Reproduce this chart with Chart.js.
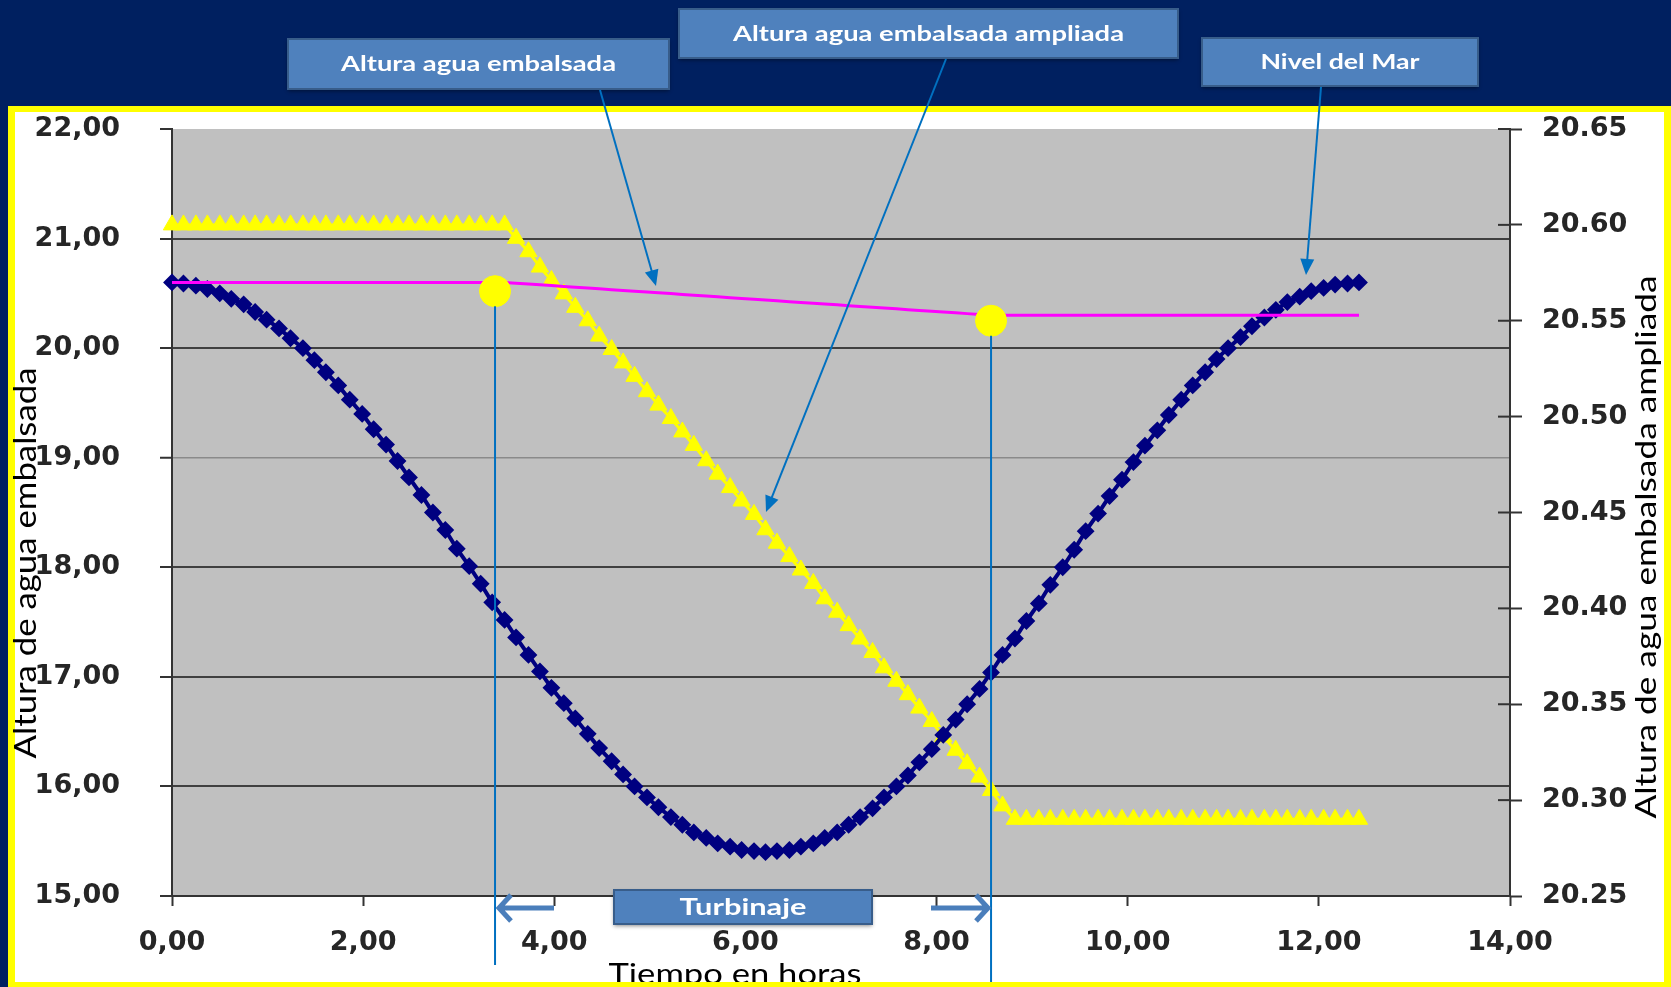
<!DOCTYPE html>
<html>
<head>
<meta charset="utf-8">
<title>Altura agua embalsada</title>
<script src="https://cdn.jsdelivr.net/npm/chart.js@4.4.1/dist/chart.umd.min.js"></script>
<style>
    html, body { margin: 0; padding: 0; background: #002060; }
    canvas { display: block; }
</style>
</head>
<body>
<canvas id="embalseChart" width="1671" height="987"></canvas>
<script>
// Tiempo en horas (una muestra cada ~7,5 min)
const horas = [
    0.00, 0.12, 0.25, 0.37, 0.50, 0.62, 0.75, 0.87, 0.99, 1.12,
    1.24, 1.37, 1.49, 1.61, 1.74, 1.86, 1.99, 2.11, 2.24, 2.36,
    2.48, 2.61, 2.73, 2.86, 2.98, 3.11, 3.23, 3.35, 3.48, 3.60,
    3.73, 3.85, 3.97, 4.10, 4.22, 4.35, 4.47, 4.60, 4.72, 4.84,
    4.97, 5.09, 5.22, 5.34, 5.46, 5.59, 5.71, 5.84, 5.96, 6.09,
    6.21, 6.33, 6.46, 6.58, 6.71, 6.83, 6.96, 7.08, 7.20, 7.33,
    7.45, 7.58, 7.70, 7.82, 7.95, 8.07, 8.20, 8.32, 8.45, 8.57,
    8.69, 8.82, 8.94, 9.07, 9.19, 9.32, 9.44, 9.56, 9.69, 9.81,
    9.94, 10.06, 10.18, 10.31, 10.43, 10.56, 10.68, 10.81, 10.93, 11.05,
    11.18, 11.30, 11.43, 11.55, 11.67, 11.80, 11.92, 12.05, 12.17, 12.30,
    12.42
];

// Nivel del Mar (eje izquierdo)
const nivelMar = [
    20.60, 20.59, 20.57, 20.54, 20.50, 20.45, 20.40, 20.33, 20.26, 20.18,
    20.09, 20.00, 19.89, 19.78, 19.66, 19.53, 19.40, 19.26, 19.12, 18.97,
    18.82, 18.66, 18.50, 18.34, 18.17, 18.01, 17.85, 17.68, 17.52, 17.36,
    17.20, 17.05, 16.90, 16.76, 16.62, 16.48, 16.35, 16.23, 16.11, 16.00,
    15.90, 15.81, 15.72, 15.65, 15.58, 15.53, 15.48, 15.45, 15.42, 15.41,
    15.40, 15.41, 15.42, 15.45, 15.48, 15.53, 15.58, 15.65, 15.72, 15.80,
    15.90, 16.00, 16.10, 16.22, 16.34, 16.47, 16.61, 16.75, 16.89, 17.04,
    17.20, 17.35, 17.51, 17.67, 17.84, 18.00, 18.16, 18.33, 18.49, 18.65,
    18.80, 18.96, 19.11, 19.25, 19.39, 19.53, 19.66, 19.78, 19.90, 20.00,
    20.10, 20.20, 20.28, 20.35, 20.42, 20.47, 20.52, 20.55, 20.58, 20.59,
    20.60
];

// Altura agua embalsada (eje izquierdo)
const embalsada = [
    20.600, 20.600, 20.600, 20.600, 20.600, 20.600, 20.600, 20.600, 20.600, 20.600,
    20.600, 20.600, 20.600, 20.600, 20.600, 20.600, 20.600, 20.600, 20.600, 20.600,
    20.600, 20.600, 20.600, 20.600, 20.600, 20.600, 20.600, 20.600, 20.600, 20.593,
    20.585, 20.578, 20.571, 20.563, 20.556, 20.549, 20.541, 20.534, 20.527, 20.520,
    20.512, 20.505, 20.498, 20.490, 20.483, 20.476, 20.468, 20.461, 20.454, 20.446,
    20.439, 20.432, 20.424, 20.417, 20.410, 20.402, 20.395, 20.388, 20.380, 20.373,
    20.366, 20.359, 20.351, 20.344, 20.337, 20.329, 20.322, 20.315, 20.307, 20.300,
    20.300, 20.300, 20.300, 20.300, 20.300, 20.300, 20.300, 20.300, 20.300, 20.300,
    20.300, 20.300, 20.300, 20.300, 20.300, 20.300, 20.300, 20.300, 20.300, 20.300,
    20.300, 20.300, 20.300, 20.300, 20.300, 20.300, 20.300, 20.300, 20.300, 20.300,
    20.300
];

// Altura agua embalsada ampliada (eje derecho)
const ampliada = [
    20.60, 20.60, 20.60, 20.60, 20.60, 20.60, 20.60, 20.60, 20.60, 20.60,
    20.60, 20.60, 20.60, 20.60, 20.60, 20.60, 20.60, 20.60, 20.60, 20.60,
    20.60, 20.60, 20.60, 20.60, 20.60, 20.60, 20.60, 20.60, 20.60, 20.593,
    20.586, 20.578, 20.571, 20.564, 20.557, 20.550, 20.542, 20.535, 20.528, 20.521,
    20.513, 20.506, 20.499, 20.492, 20.485, 20.477, 20.470, 20.463, 20.456, 20.449,
    20.441, 20.434, 20.427, 20.420, 20.413, 20.405, 20.398, 20.391, 20.384, 20.377,
    20.369, 20.362, 20.355, 20.348, 20.341, 20.333, 20.326, 20.319, 20.312, 20.305,
    20.297, 20.290, 20.29, 20.29, 20.29, 20.29, 20.29, 20.29, 20.29, 20.29,
    20.29, 20.29, 20.29, 20.29, 20.29, 20.29, 20.29, 20.29, 20.29, 20.29,
    20.29, 20.29, 20.29, 20.29, 20.29, 20.29, 20.29, 20.29, 20.29, 20.29,
    20.29
];

// Inicio y fin del turbinaje (círculos amarillos)
const marcaHoras = [3.38, 8.57];
const marcaAltura = [20.52, 20.25];

const pares = (ys) => horas.map((h, i) => ({ x: h, y: ys[i] }));
const tickFont = { family: 'DejaVu Sans', size: 27, weight: 'bold' };
const coma = (v) => v.toFixed(2).replace('.', ',');

function stretchText(ctx, text, x, y, font, width, angle, baseline) {
    ctx.save();
    ctx.font = font;
    const w = ctx.measureText(text).width;
    ctx.translate(x, y);
    if (angle) ctx.rotate(angle);
    ctx.scale(width / w, 1);
    ctx.textAlign = 'center';
    ctx.textBaseline = baseline || 'middle';
    ctx.fillText(text, 0, 0);
    ctx.restore();
}

function arrow(ctx, x1, y1, x2, y2, color) {
    const a = Math.atan2(y2 - y1, x2 - x1);
    const head = 16, half = 7;
    ctx.save();
    ctx.strokeStyle = color;
    ctx.fillStyle = color;
    ctx.lineWidth = 2;
    ctx.beginPath();
    ctx.moveTo(x1, y1);
    ctx.lineTo(x2 - Math.cos(a) * head * 0.8, y2 - Math.sin(a) * head * 0.8);
    ctx.stroke();
    ctx.beginPath();
    ctx.moveTo(x2, y2);
    ctx.lineTo(x2 - head * Math.cos(a) + half * Math.sin(a), y2 - head * Math.sin(a) - half * Math.cos(a));
    ctx.lineTo(x2 - head * Math.cos(a) - half * Math.sin(a), y2 - head * Math.sin(a) + half * Math.cos(a));
    ctx.closePath();
    ctx.fill();
    ctx.restore();
}

function box(ctx, x, y, w, h, text, textWidth, fontSize) {
    ctx.save();
    ctx.shadowColor = 'rgba(0,0,0,0.45)';
    ctx.shadowBlur = 4;
    ctx.shadowOffsetY = 2;
    ctx.fillStyle = '#4F81BD';
    ctx.fillRect(x, y, w, h);
    ctx.restore();
    ctx.save();
    ctx.strokeStyle = '#385D8A';
    ctx.lineWidth = 2;
    ctx.strokeRect(x, y, w, h);
    ctx.fillStyle = '#ffffff';
    stretchText(ctx, text, x + w / 2, y + h / 2 + 1, 'bold ' + fontSize + 'px Lato', textWidth);
    ctx.restore();
}

// Fondo: banda azul, marco amarillo, área gris
const fondo = {
    id: 'fondo',
    beforeDraw(chart) {
        const { ctx, chartArea: a } = chart;
        ctx.save();
        ctx.fillStyle = '#002060';
        ctx.fillRect(0, 0, chart.width, chart.height);
        ctx.fillStyle = '#FFFF00';
        ctx.fillRect(8, 106, chart.width - 8, chart.height - 106);
        ctx.fillStyle = '#ffffff';
        ctx.fillRect(15, 112, chart.width - 22, chart.height - 117);
        ctx.fillStyle = '#C0C0C0';
        ctx.fillRect(a.left, a.top, a.right - a.left, a.bottom - a.top);
        ctx.restore();
    }
};

// Rótulos, flechas y líneas de turbinaje
const anotaciones = {
    id: 'anotaciones',
    afterDraw(chart) {
        const { ctx, chartArea: a, scales } = chart;

        // marcas del eje derecho hacia dentro
        ctx.save();
        ctx.strokeStyle = '#333';
        ctx.lineWidth = 2;
        scales.y1.ticks.forEach(t => {
            const py = scales.y1.getPixelForValue(t.value);
            ctx.beginPath();
            ctx.moveTo(a.right - 12, py);
            ctx.lineTo(a.right, py);
            ctx.stroke();
        });
        ctx.restore();

        // líneas verticales desde los círculos
        const finLinea = [965, 982];
        ctx.save();
        ctx.strokeStyle = '#0070C0';
        ctx.lineWidth = 2;
        marcaHoras.forEach((h, i) => {
            const px = scales.x.getPixelForValue(h);
            const py = scales.y.getPixelForValue(marcaAltura[i]);
            ctx.beginPath();
            ctx.moveTo(px, py + 15);
            ctx.lineTo(px, finLinea[i]);
            ctx.stroke();
        });
        ctx.restore();

        // rótulos superiores
        box(ctx, 288, 39, 381, 50, 'Altura agua embalsada', 275, 20);
        box(ctx, 679, 9, 499, 49, 'Altura agua embalsada ampliada', 391, 20);
        box(ctx, 1202, 38, 276, 48, 'Nivel del Mar', 159, 20);

        arrow(ctx, 600, 90, 656, 286, '#0070C0');
        arrow(ctx, 946, 59, 766, 512, '#0070C0');
        arrow(ctx, 1321, 87, 1306, 275, '#0070C0');

        // Turbinaje
        ctx.save();
        ctx.strokeStyle = '#4A7EBB';
        ctx.lineWidth = 5;
        ctx.lineJoin = 'miter';
        ctx.beginPath();
        ctx.moveTo(554, 908); ctx.lineTo(500, 908);
        ctx.moveTo(511, 895); ctx.lineTo(499, 908); ctx.lineTo(511, 921);
        ctx.moveTo(931, 908); ctx.lineTo(986, 908);
        ctx.moveTo(976, 895); ctx.lineTo(988, 908); ctx.lineTo(976, 921);
        ctx.stroke();
        ctx.restore();
        box(ctx, 614, 890, 258, 34, 'Turbinaje', 127, 23);

        // títulos de ejes
        ctx.save();
        ctx.fillStyle = '#000000';
        stretchText(ctx, 'Altura de agua embalsada', 26, 563, '30px Lato', 391, -Math.PI / 2);
        stretchText(ctx, 'Altura de agua embalsada ampliada', 1647, 547, '28px Lato', 543, -Math.PI / 2);
        stretchText(ctx, 'Tiempo en horas', 735, 984, '29px Lato', 253, 0, 'alphabetic');
        ctx.fillStyle = '#FFFF00';
        ctx.fillRect(8, 982, chart.width - 8, 5);
        ctx.restore();
    }
};

const chart = new Chart(document.getElementById('embalseChart'), {
    type: 'line',
    data: {
        datasets: [{
            label: 'Turbinaje',
            data: marcaHoras.map((h, i) => ({ x: h, y: marcaAltura[i] })),
            yAxisID: 'y',
            showLine: false,
            pointRadius: 15.5,
            pointBackgroundColor: '#FFFF00',
            pointBorderColor: '#FFFF00',
            pointBorderWidth: 1,
            clip: false
        }, {
            label: 'Altura agua embalsada',
            data: pares(embalsada),
            yAxisID: 'y',
            borderColor: '#FF00FF',
            borderWidth: 3,
            pointRadius: 0,
            clip: false
        }, {
            label: 'Nivel del Mar',
            data: pares(nivelMar),
            yAxisID: 'y',
            borderColor: '#000080',
            borderWidth: 4,
            pointStyle: 'rectRot',
            pointRadius: 7.5,
            pointBackgroundColor: '#000080',
            pointBorderColor: '#000080',
            pointBorderWidth: 2,
            clip: false
        }, {
            label: 'Altura agua embalsada ampliada',
            data: pares(ampliada),
            yAxisID: 'y1',
            borderColor: '#FFFF00',
            borderWidth: 3,
            pointStyle: 'triangle',
            pointRadius: 10,
            pointBackgroundColor: '#FFFF00',
            pointBorderColor: '#FFFF00',
            pointBorderWidth: 1,
            clip: false
        }]
    },
    options: {
        responsive: false,
        animation: false,
        layout: { padding: { top: 129, left: 0, right: 0, bottom: 0 } },
        elements: { line: { tension: 0 } },
        plugins: {
            legend: { display: false },
            tooltip: { enabled: false }
        },
        scales: {
            x: {
                type: 'linear',
                min: 0,
                max: 14,
                ticks: { stepSize: 2, padding: 21, color: '#262626', font: tickFont, maxRotation: 0, callback: coma },
                grid: { drawOnChartArea: false, tickLength: 10, tickColor: '#333', tickWidth: 2 },
                border: { color: '#333', width: 2 },
                afterFit: (s) => { s.height = 91; }
            },
            y: {
                position: 'left',
                min: 15,
                max: 22,
                ticks: { stepSize: 1, padding: 40, color: '#262626', font: tickFont, callback: coma },
                grid: {
                    color: (c) => c.tick.value === 22 ? 'rgba(0,0,0,0)' : (c.tick.value === 19 ? '#8a8a8a' : '#404040'),
                    lineWidth: (c) => c.tick.value === 19 ? 1.5 : 2,
                    tickLength: 12,
                    tickColor: '#333',
                    tickWidth: 2
                },
                border: { color: '#333', width: 2 },
                afterFit: (s) => { s.width = 172; }
            },
            y1: {
                position: 'right',
                min: 20.25,
                max: 20.65,
                ticks: { stepSize: 0.05, padding: 20, color: '#262626', font: tickFont, callback: (v) => v.toFixed(2) },
                grid: { drawOnChartArea: false, tickLength: 12, tickColor: '#333', tickWidth: 2 },
                border: { color: '#333', width: 2 },
                afterFit: (s) => { s.width = 161; }
            }
        }
    },
    plugins: [fondo, anotaciones]
});
</script>
</body>
</html>
